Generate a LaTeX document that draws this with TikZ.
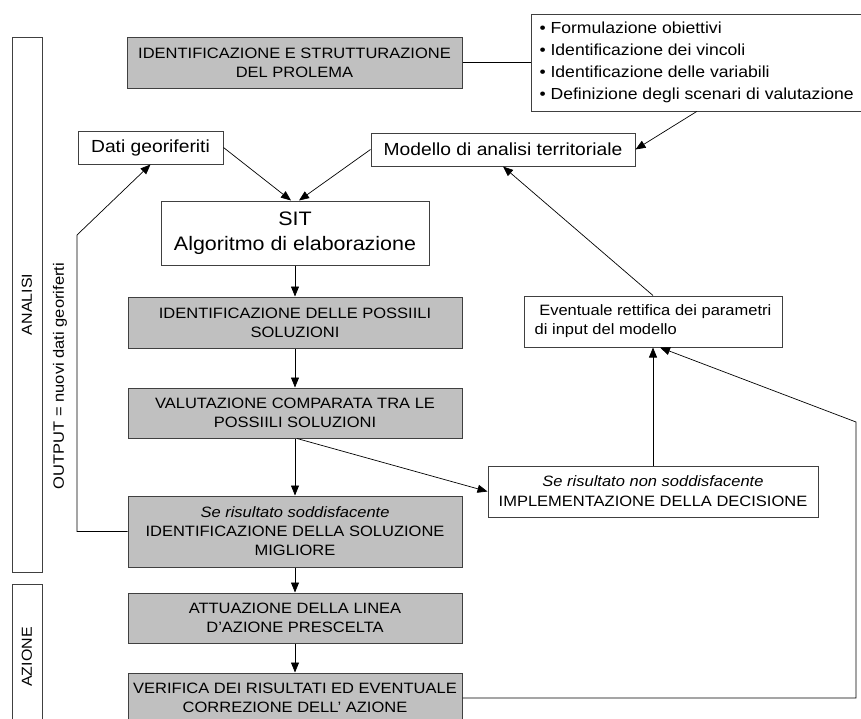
\documentclass[tikz,border=0pt]{standalone}
\usepackage{fontspec}
\setmainfont{Liberation Sans}[FakeStretch=1.1]
\usetikzlibrary{arrows.meta}

\definecolor{boxgray}{RGB}{192,192,192}
\definecolor{edgegray}{RGB}{64,64,64}

\tikzstyle{graybox} = [rectangle, minimum width=334pt, minimum height=50pt, text centered, align=center, draw=edgegray, fill=boxgray, line width=1pt, font=\fontsize{15}{19}\selectfont]
\tikzstyle{whitebox} = [rectangle, minimum height=33pt, align=center, draw=edgegray, fill=white, line width=1pt, font=\fontsize{15}{19}\selectfont]
\tikzstyle{arrow} = [line width=0.7pt, ->, >={Triangle[length=10pt,width=8pt]}]
\tikzstyle{link} = [line width=0.7pt]

\begin{document}
\begin{tikzpicture}[x=1pt, y=-1pt]
    \fill [white] (0,0) rectangle (861,718);
    \clip (0,0) rectangle (861,718);
    % fasi
    \node (analisi) [whitebox, rotate=90, minimum width=535pt, minimum height=30pt, font=\fontsize{14.5}{17}\selectfont] at (27,304.5) {ANALISI};
    \node (azione) [whitebox, rotate=90, minimum width=146pt, minimum height=30pt, font=\fontsize{14.5}{17}\selectfont] at (27,657) {AZIONE};
    \node (output) [rotate=90, font=\fontsize{15}{18}\selectfont] at (60,376) {OUTPUT = nuovi dati georiferti};
    % catena principale
    \node (0) [graybox, minimum width=335pt, minimum height=51pt] at (294.5,62.5) {IDENTIFICAZIONE E STRUTTURAZIONE\\DEL PROLEMA};
    \node (sit) [whitebox, minimum width=268pt, minimum height=64pt, font=\fontsize{19.5}{25}\selectfont] at (295,233) {SIT\\Algoritmo di elaborazione};
    \node (1) [graybox, minimum height=51pt] at (295,322.5) {IDENTIFICAZIONE DELLE POSSIILI\\SOLUZIONI};
    \node (2) [graybox] at (295,413) {VALUTAZIONE COMPARATA TRA LE\\POSSIILI SOLUZIONI};
    \node (3) [graybox, minimum height=71pt] at (295,531.5) {\textit{Se risultato soddisfacente}\\IDENTIFICAZIONE DELLA SOLUZIONE\\MIGLIORE};
    \node (4) [graybox] at (295,618) {ATTUAZIONE DELLA LINEA\\D'AZIONE PRESCELTA};
    \node (5) [graybox] at (295,698) {VERIFICA DEI RISULTATI ED EVENTUALE\\CORREZIONE DELL' AZIONE};
    % riquadri laterali
    \node (a) [whitebox, anchor=west, minimum height=97pt, align=left, inner xsep=8pt, font=\fontsize{16}{22}\selectfont] at (531,62.5) {• Formulazione obiettivi\\• Identificazione dei vincoli\\• Identificazione delle variabili\\• Definizione degli scenari di valutazione};
    \node (b) [whitebox, minimum width=145pt, font=\fontsize{17.5}{21}\selectfont] at (150.5,147.5) {Dati georiferiti};
    \node (c) [whitebox, minimum width=264pt, font=\fontsize{17.5}{21}\selectfont] at (503,149.5) {Modello di analisi territoriale};
    \node (d) [whitebox, minimum width=258pt, minimum height=51pt, align=left] at (653,321.5) {\ Eventuale rettifica dei parametri\\di input del modello};
    \node (e) [whitebox, minimum width=330pt, minimum height=51pt, font=\fontsize{15}{20}\selectfont] at (653,491.5) {\textit{Se risultato non soddisfacente}\\IMPLEMENTAZIONE DELLA DECISIONE};
    % collegamenti
    \coordinate (bend1) at (77,235);
    \coordinate (bend2) at (856,422);
    \draw [link] (0) -- (a);
    \draw [arrow] (a.south) -- (c.east);
    \draw [arrow] (b.east) -- ([xshift=-4pt]sit.north);
    \draw [arrow] (c.west) -- ([xshift=4pt]sit.north);
    \draw [arrow] (sit) -- (1);
    \draw [arrow] (1) -- (2);
    \draw [arrow] (2) -- (3);
    \draw [arrow] (3) -- (4);
    \draw [arrow] (4) -- (5);
    \draw [arrow] ([xshift=2pt]2.south) -- (e.west);
    \draw [arrow] (e) -- (d);
    \draw [arrow] (d.north) -- (c.south);
    \draw [arrow] (5.east) -| (bend2) -- ([xshift=7pt]d.south);
    \draw [arrow] (3.west) -| (bend1) -- (b.south);
\end{tikzpicture}
\end{document}
